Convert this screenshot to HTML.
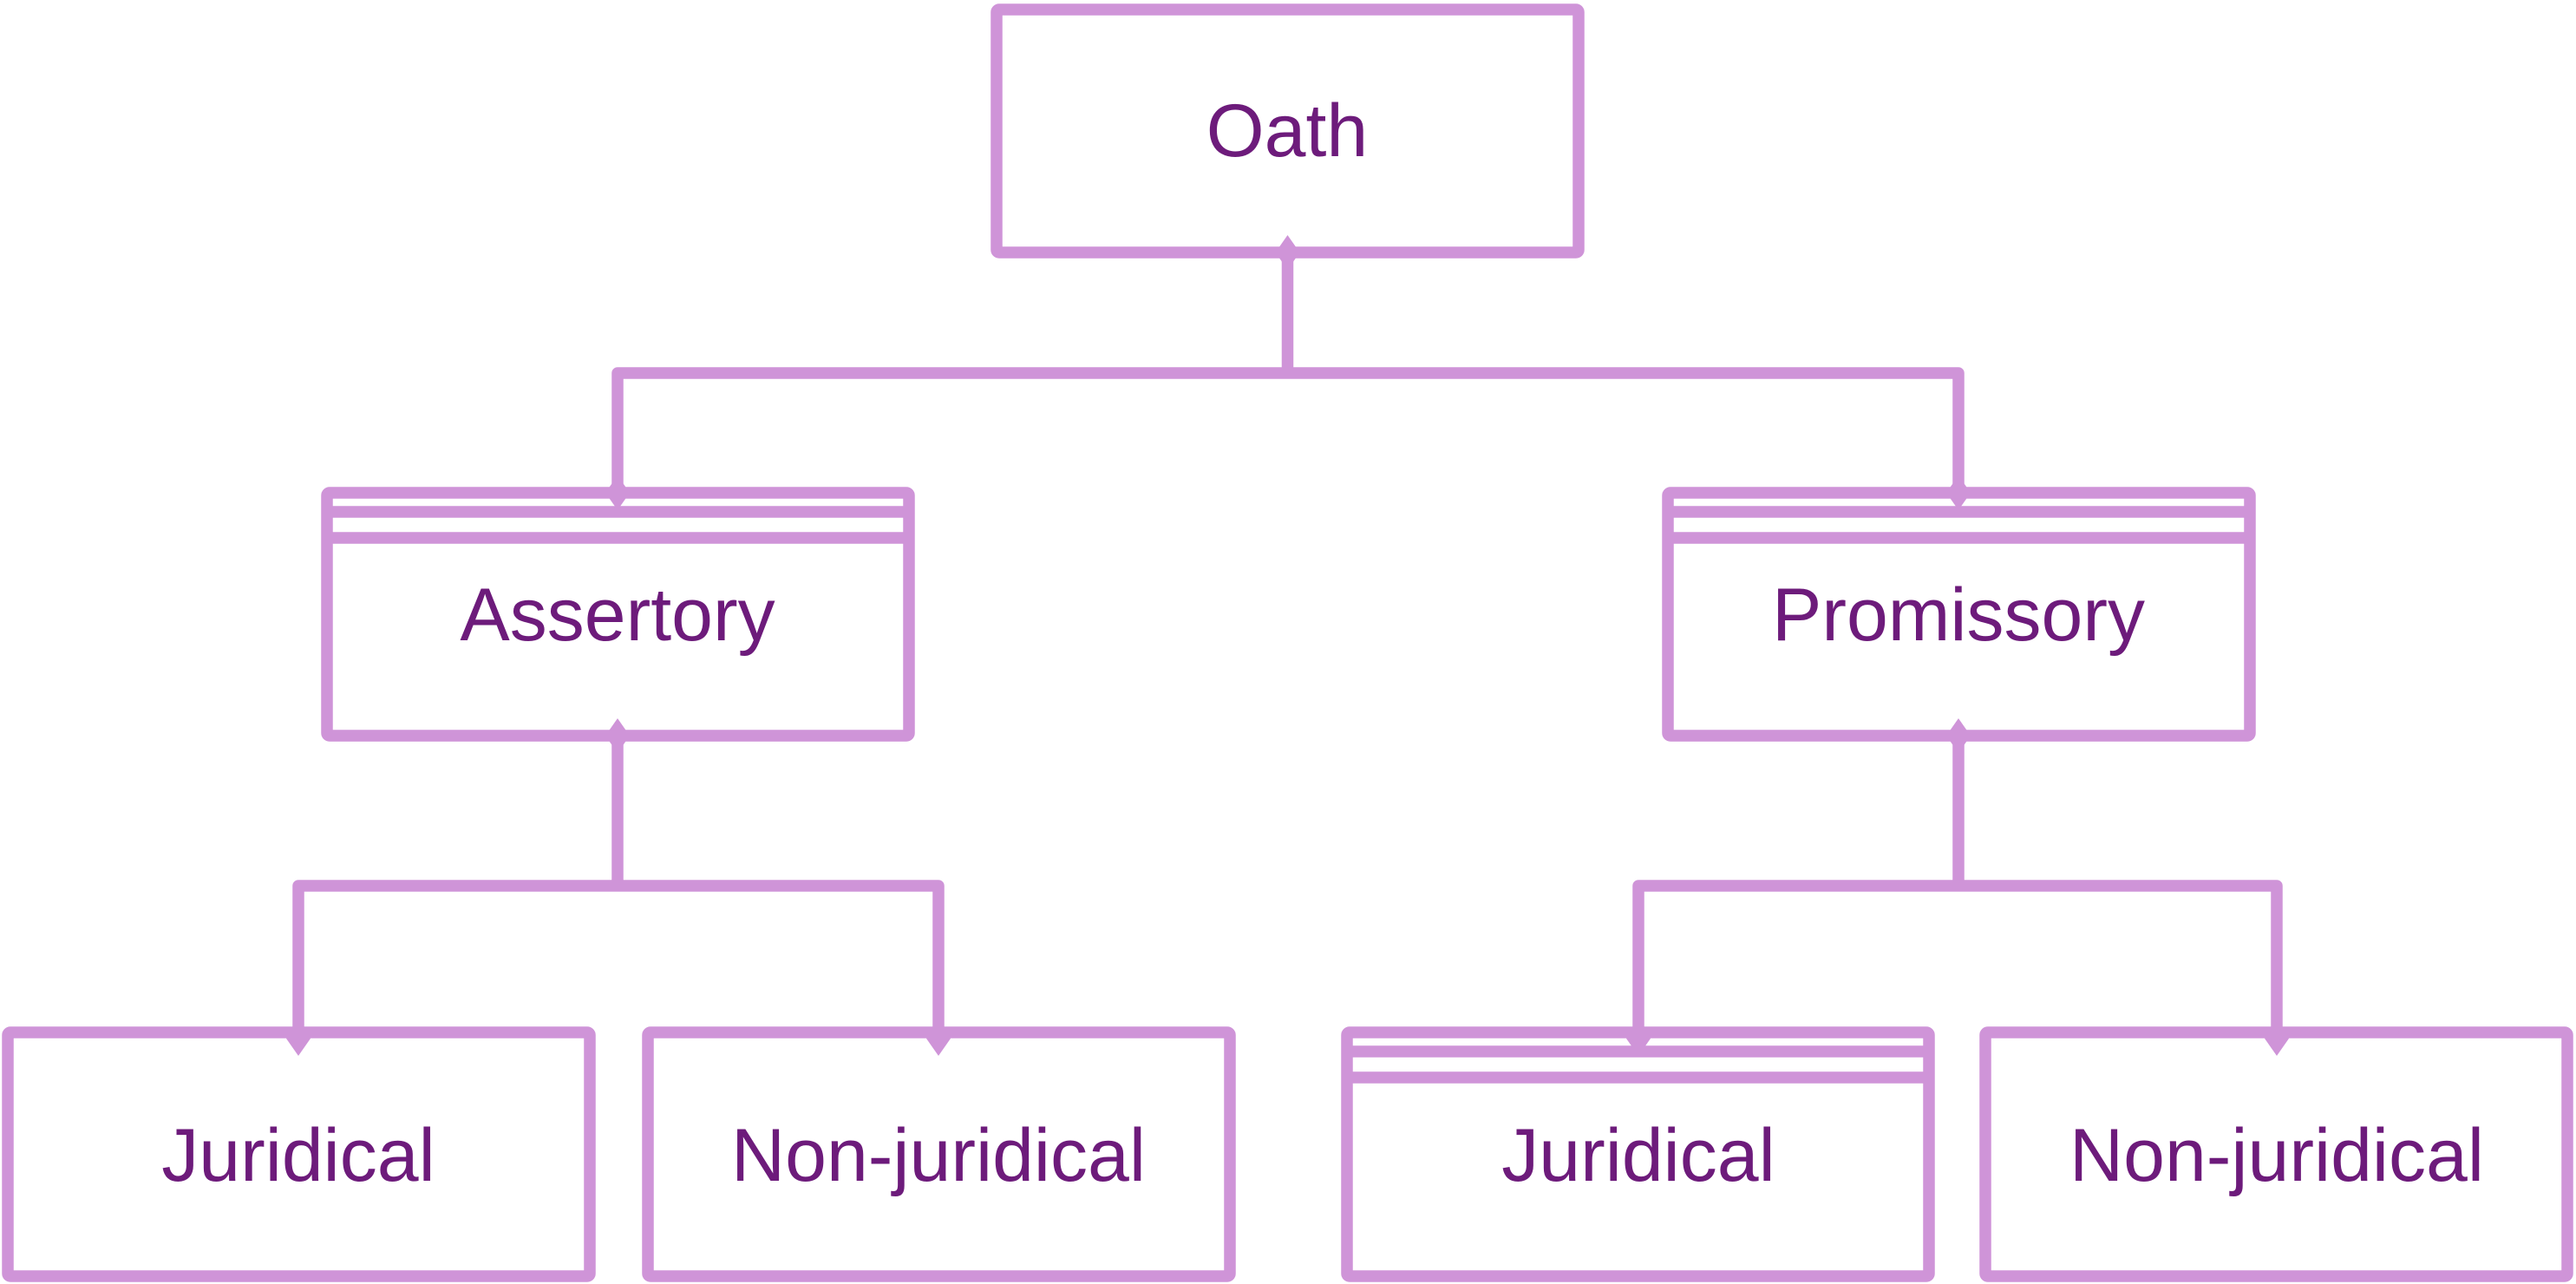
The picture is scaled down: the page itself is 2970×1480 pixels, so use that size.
<!DOCTYPE html>
<html><head><meta charset="utf-8"><style>
html,body{margin:0;padding:0;background:#fff;}
svg{display:block;}
text{font-family:"Liberation Sans",sans-serif;font-size:86px;fill:#6d1b7b;text-anchor:middle;}
</style></head><body>
<svg width="2970" height="1480" viewBox="0 0 2970 1480" xmlns="http://www.w3.org/2000/svg">
<g fill="none" stroke="#cf94d8" stroke-width="13.5" stroke-linejoin="round">
<rect x="1149" y="11" width="671" height="280" rx="3"/>
<rect x="377" y="568" width="671" height="280" rx="3"/>
<rect x="1923" y="568" width="671" height="280" rx="3"/>
<rect x="9" y="1190" width="671" height="281" rx="3"/>
<rect x="747" y="1190" width="671" height="281" rx="3"/>
<rect x="1553" y="1190" width="671" height="281" rx="3"/>
<rect x="2289" y="1190" width="671" height="281" rx="3"/>
<line x1="377" y1="590" x2="1048" y2="590"/>
<line x1="377" y1="620" x2="1048" y2="620"/>
<line x1="1923" y1="590" x2="2594" y2="590"/>
<line x1="1923" y1="620" x2="2594" y2="620"/>
<line x1="1553" y1="1212" x2="2224" y2="1212"/>
<line x1="1553" y1="1242" x2="2224" y2="1242"/>
<path d="M1484.5 291 V430"/>
<path d="M712 568 V430 H2258 V568"/>
<path d="M712 848 V1021"/>
<path d="M344 1190 V1021 H1082 V1190"/>
<path d="M2258 848 V1021"/>
<path d="M1889 1190 V1021 H2625 V1190"/>
</g>
<g fill="#cf94d8">
<path d="M1484.5 271 l14 20 l-14 20 l-14 -20z"/>
<path d="M712 548 l14 20 l-14 20 l-14 -20z"/>
<path d="M2258 548 l14 20 l-14 20 l-14 -20z"/>
<path d="M712 828 l14 20 l-14 20 l-14 -20z"/>
<path d="M2258 828 l14 20 l-14 20 l-14 -20z"/>
<path d="M344 1177 l14 20 l-14 20 l-14 -20z"/>
<path d="M1082 1177 l14 20 l-14 20 l-14 -20z"/>
<path d="M1889 1177 l14 20 l-14 20 l-14 -20z"/>
<path d="M2625 1177 l14 20 l-14 20 l-14 -20z"/>
</g>
<text x="1484" y="180">Oath</text>
<text x="712" y="738">Assertory</text>
<text x="2258" y="738">Promissory</text>
<text x="344" y="1361">Juridical</text>
<text x="1082" y="1361">Non-juridical</text>
<text x="1889" y="1361">Juridical</text>
<text x="2625" y="1361">Non-juridical</text>
</svg>
</body></html>
